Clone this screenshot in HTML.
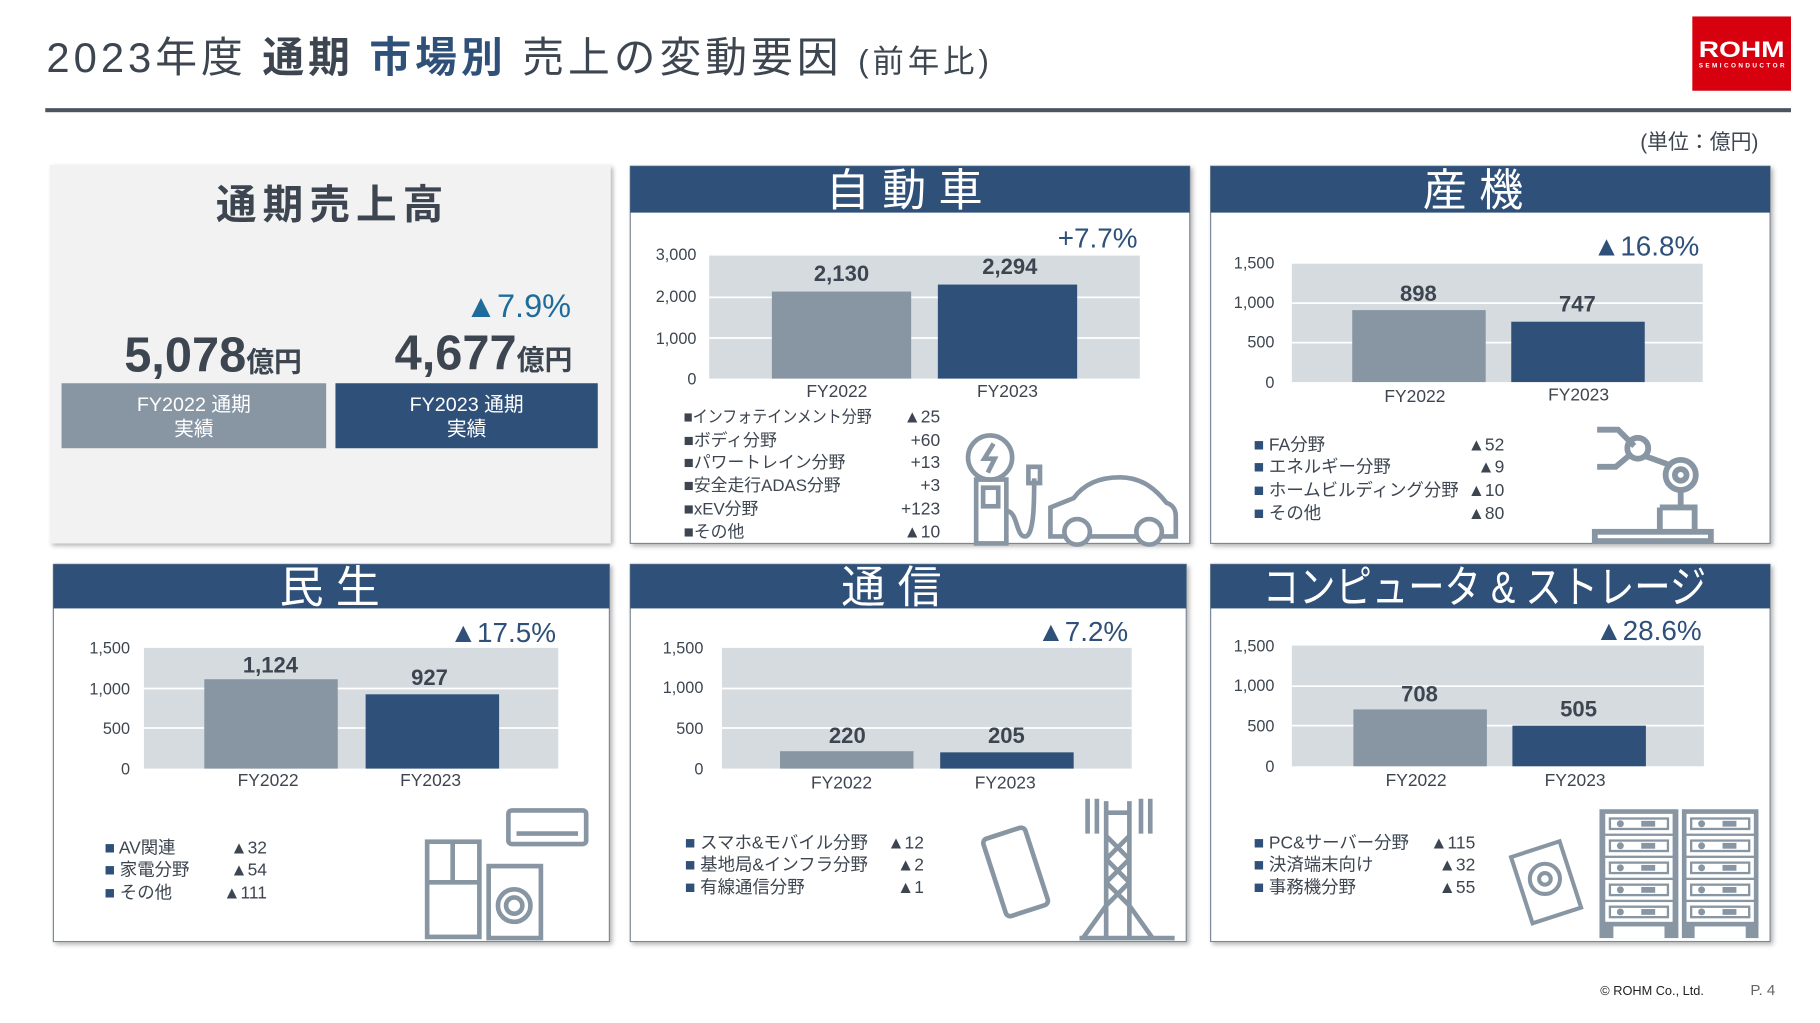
<!DOCTYPE html>
<html><head><meta charset="utf-8">
<style>
html,body{margin:0;padding:0;background:#fff;width:1820px;height:1023px;overflow:hidden}
svg{display:block}
text{font-family:"Liberation Sans","Noto Sans CJK JP",sans-serif}
</style></head><body>
<svg width="1820" height="1023" viewBox="0 0 1568 881" xmlns="http://www.w3.org/2000/svg">
<defs>
<filter id="sh" x="-5%" y="-5%" width="110%" height="110%"><feDropShadow dx="2" dy="2" stdDeviation="2" flood-color="#000" flood-opacity="0.3"/></filter>
</defs>
<!-- Title -->
<text x="40" y="62" font-size="36" fill="#3d4650" textLength="812" lengthAdjust="spacing">2023年度 <tspan font-weight="bold">通期</tspan> <tspan font-weight="bold" fill="#2e5079">市場別</tspan> 売上の変動要因 <tspan font-size="27">(前年比)</tspan></text>
<rect x="39" y="93" width="1504" height="3.5" fill="#4a5560"/>
<rect x="1458" y="14" width="85" height="64" fill="#d7000f"/>
<text x="1500.5" y="49" font-size="19" font-weight="bold" fill="#fff" text-anchor="middle" textLength="74" lengthAdjust="spacingAndGlyphs">ROHM</text>
<text x="1500.5" y="58" font-size="5.5" font-weight="bold" fill="#fff" text-anchor="middle" textLength="74" lengthAdjust="spacing">SEMICONDUCTOR</text>
<text x="1515" y="128" font-size="18" fill="#3d4650" text-anchor="end">(単位：億円)</text>

<!-- Panel 1 -->
<rect x="43" y="142" width="483" height="326" fill="#f2f2f2" filter="url(#sh)"/>
<text x="186" y="188" font-size="35" font-weight="bold" fill="#3d4650" textLength="196" lengthAdjust="spacing">通期売上高</text>
<text x="492" y="273" font-size="28" fill="#1f6c9c" text-anchor="end">▲7.9%</text>
<text x="107" y="320" font-size="42" font-weight="bold" fill="#3d4650">5,078<tspan font-size="24">億円</tspan></text>
<text x="340" y="318" font-size="42" font-weight="bold" fill="#3d4650">4,677<tspan font-size="24">億円</tspan></text>
<rect x="53" y="330" width="228" height="56" fill="#8896a4"/>
<rect x="289" y="330" width="226" height="56" fill="#2e5079"/>
<text x="167" y="354" font-size="17" fill="#fff" text-anchor="middle">FY2022 通期</text>
<text x="167" y="375" font-size="17" fill="#fff" text-anchor="middle">実績</text>
<text x="402" y="354" font-size="17" fill="#fff" text-anchor="middle">FY2023 通期</text>
<text x="402" y="375" font-size="17" fill="#fff" text-anchor="middle">実績</text>

<!-- Panel frames -->
<g filter="url(#sh)">
<rect x="543" y="143" width="482" height="325" fill="#fff" stroke="#7a8794"/>
<rect x="1043" y="143" width="482" height="325" fill="#fff" stroke="#7a8794"/>
<rect x="46" y="486" width="479" height="325" fill="#fff" stroke="#7a8794"/>
<rect x="543" y="486" width="479" height="325" fill="#fff" stroke="#7a8794"/>
<rect x="1043" y="486" width="482" height="325" fill="#fff" stroke="#7a8794"/>
</g>
<rect x="543" y="143" width="482" height="40" fill="#2e5079"/>
<rect x="1043" y="143" width="482" height="40" fill="#2e5079"/>
<rect x="46" y="486" width="479" height="38" fill="#2e5079"/>
<rect x="543" y="486" width="479" height="38" fill="#2e5079"/>
<rect x="1043" y="486" width="482" height="38" fill="#2e5079"/>
<g font-size="38" fill="#fff" text-anchor="middle">
<text x="779" y="177">自 動 車</text>
<text x="1269" y="177">産 機</text>
<text x="284" y="519">民 生</text>
<text x="768" y="519">通 信</text>
<text x="1279" y="519" textLength="382" lengthAdjust="spacingAndGlyphs">コンピュータ &amp; ストレージ</text>
</g>

<!-- Chart 自動車 -->
<rect x="611" y="220" width="371" height="106" fill="#d6dbe0"/>
<g stroke="#fff" stroke-width="1.5"><line x1="611" y1="256" x2="982" y2="256"/><line x1="611" y1="291" x2="982" y2="291"/></g>
<rect x="665" y="251" width="120" height="75" fill="#8896a4"/>
<rect x="808" y="245" width="120" height="81" fill="#2e5079"/>
<g font-size="14" fill="#3d4650" text-anchor="end"><text x="600" y="224">3,000</text><text x="600" y="260">2,000</text><text x="600" y="296">1,000</text><text x="600" y="331">0</text></g>
<g font-size="19" font-weight="bold" fill="#3d4650" text-anchor="middle"><text x="725" y="242">2,130</text><text x="870" y="236">2,294</text></g>
<text x="980" y="213" font-size="24" fill="#2e5079" text-anchor="end">+7.7%</text>
<g font-size="15" fill="#3d4650" text-anchor="middle"><text x="721" y="342">FY2022</text><text x="868" y="342">FY2023</text></g>
<g font-size="14.5" fill="#3d4650">
<text x="589" y="364" textLength="162" lengthAdjust="spacingAndGlyphs">■インフォテインメント分野</text><text x="589" y="384">■ボディ分野</text><text x="589" y="403">■パワートレイン分野</text><text x="589" y="423">■安全走行ADAS分野</text><text x="589" y="443">■xEV分野</text><text x="589" y="463">■その他</text>
</g>
<g font-size="15" fill="#3d4650" text-anchor="end"><text x="810" y="364">▲25</text><text x="810" y="384">+60</text><text x="810" y="403">+13</text><text x="810" y="423">+3</text><text x="810" y="443">+123</text><text x="810" y="463">▲10</text></g>
<g fill="none" stroke="#8896a4" stroke-width="4">
<circle cx="853" cy="394" r="19"/><path d="M856 382l-8 13h9l-6 12"/>
<rect x="841" y="413" width="26" height="55"/><rect x="847" y="420" width="13" height="16"/>
<path d="M867 440c10 0 8 22 16 22c8 0 8-30 8-50"/><rect x="886" y="402" width="10" height="14"/>
<path d="M905 462v-25l20-8c10-14 25-18 40-18c20 0 32 12 40 22c6 2 8 6 8 12v17z"/>
<circle cx="928" cy="458" r="11" fill="#fff"/><circle cx="990" cy="458" r="11" fill="#fff"/>
</g>

<!-- Chart 産機 -->
<rect x="1113" y="227" width="354" height="102" fill="#d6dbe0"/>
<g stroke="#fff" stroke-width="1.5"><line x1="1113" y1="261" x2="1467" y2="261"/><line x1="1113" y1="295" x2="1467" y2="295"/></g>
<rect x="1165" y="267" width="115" height="62" fill="#8896a4"/>
<rect x="1302" y="277" width="115" height="52" fill="#2e5079"/>
<g font-size="14" fill="#3d4650" text-anchor="end"><text x="1098" y="231">1,500</text><text x="1098" y="265">1,000</text><text x="1098" y="299">500</text><text x="1098" y="334">0</text></g>
<g font-size="19" font-weight="bold" fill="#3d4650" text-anchor="middle"><text x="1222" y="259">898</text><text x="1359" y="268">747</text></g>
<text x="1464" y="220" font-size="24" fill="#2e5079" text-anchor="end">▲16.8%</text>
<g font-size="15" fill="#3d4650" text-anchor="middle"><text x="1219" y="346">FY2022</text><text x="1360" y="345">FY2023</text></g>
<g font-size="15" fill="#3d4650"><text x="1080" y="388"><tspan fill="#2e5079">■</tspan>  FA分野</text><text x="1080" y="407"><tspan fill="#2e5079">■</tspan>  エネルギー分野</text><text x="1080" y="427"><tspan fill="#2e5079">■</tspan>  ホームビルディング分野</text><text x="1080" y="447"><tspan fill="#2e5079">■</tspan>  その他</text></g>
<g font-size="15" fill="#3d4650" text-anchor="end"><text x="1296" y="388">▲52</text><text x="1296" y="407">▲9</text><text x="1296" y="427">▲10</text><text x="1296" y="447">▲80</text></g>
<g fill="none" stroke="#8896a4" stroke-width="5">
<path d="M1376 370h18l14 14M1376 402h16l12-10"/>
<circle cx="1411" cy="386" r="9"/><path d="M1418 393l22 8"/><circle cx="1448" cy="409" r="13"/><circle cx="1448" cy="409" r="5"/>
<path d="M1448 422v15M1430 437h30v21M1430 437v21"/><rect x="1374" y="458" width="100" height="8"/>
</g>

<!-- Chart 民生 -->
<rect x="124" y="558" width="357" height="104" fill="#d6dbe0"/>
<g stroke="#fff" stroke-width="1.5"><line x1="124" y1="593" x2="481" y2="593"/><line x1="124" y1="627" x2="481" y2="627"/></g>
<rect x="176" y="585" width="115" height="77" fill="#8896a4"/>
<rect x="315" y="598" width="115" height="64" fill="#2e5079"/>
<g font-size="14" fill="#3d4650" text-anchor="end"><text x="112" y="563">1,500</text><text x="112" y="598">1,000</text><text x="112" y="632">500</text><text x="112" y="667">0</text></g>
<g font-size="19" font-weight="bold" fill="#3d4650" text-anchor="middle"><text x="233" y="579">1,124</text><text x="370" y="590">927</text></g>
<text x="479" y="553" font-size="24" fill="#2e5079" text-anchor="end">▲17.5%</text>
<g font-size="15" fill="#3d4650" text-anchor="middle"><text x="231" y="677">FY2022</text><text x="371" y="677">FY2023</text></g>
<g font-size="15" fill="#3d4650"><text x="90" y="735"><tspan fill="#2e5079">■</tspan>  AV関連</text><text x="90" y="754"><tspan fill="#2e5079">■</tspan>  家電分野</text><text x="90" y="774"><tspan fill="#2e5079">■</tspan>  その他</text></g>
<g font-size="15" fill="#3d4650" text-anchor="end"><text x="230" y="735">▲32</text><text x="230" y="754">▲54</text><text x="230" y="774">▲111</text></g>
<g fill="none" stroke="#8896a4" stroke-width="4">
<rect x="368" y="725" width="45" height="82"/><line x1="390" y1="725" x2="390" y2="760"/><line x1="368" y1="760" x2="413" y2="760"/>
<rect x="421" y="746" width="45" height="62"/><circle cx="443" cy="780" r="14"/><circle cx="443" cy="780" r="7"/>
<rect x="438" y="698" width="67" height="29" rx="3"/><line x1="445" y1="718" x2="498" y2="718"/>
</g>

<!-- Chart 通信 -->
<rect x="622" y="558" width="353" height="104" fill="#d6dbe0"/>
<g stroke="#fff" stroke-width="1.5"><line x1="622" y1="593" x2="975" y2="593"/><line x1="622" y1="627" x2="975" y2="627"/></g>
<rect x="672" y="647" width="115" height="15" fill="#8896a4"/>
<rect x="810" y="648" width="115" height="14" fill="#2e5079"/>
<g font-size="14" fill="#3d4650" text-anchor="end"><text x="606" y="563">1,500</text><text x="606" y="597">1,000</text><text x="606" y="632">500</text><text x="606" y="667">0</text></g>
<g font-size="19" font-weight="bold" fill="#3d4650" text-anchor="middle"><text x="730" y="640">220</text><text x="867" y="640">205</text></g>
<text x="972" y="552" font-size="24" fill="#2e5079" text-anchor="end">▲7.2%</text>
<g font-size="15" fill="#3d4650" text-anchor="middle"><text x="725" y="679">FY2022</text><text x="866" y="679">FY2023</text></g>
<g font-size="15" fill="#3d4650"><text x="590" y="731"><tspan fill="#2e5079">■</tspan>  スマホ&amp;モバイル分野</text><text x="590" y="750"><tspan fill="#2e5079">■</tspan>  基地局&amp;インフラ分野</text><text x="590" y="769"><tspan fill="#2e5079">■</tspan>  有線通信分野</text></g>
<g font-size="15" fill="#3d4650" text-anchor="end"><text x="796" y="731">▲12</text><text x="796" y="750">▲2</text><text x="796" y="769">▲1</text></g>
<g fill="none" stroke="#8896a4" stroke-width="4">
<rect x="856" y="716" width="38" height="70" rx="4" transform="rotate(-18 875 751)"/>
<path d="M953 690v120M973 690v120M953 700h20M953 720l20 20M973 720l-20 20M953 740l20 20M973 740l-20 20M953 760l20 20M973 760l-20 20M953 780l-20 28M973 780l20 28M930 808h82"/>
<path d="M937 688v30M945 688v30M983 688v30M991 688v30"/>
</g>

<!-- Chart C&S -->
<rect x="1113" y="556" width="355" height="104" fill="#d6dbe0"/>
<g stroke="#fff" stroke-width="1.5"><line x1="1113" y1="591" x2="1468" y2="591"/><line x1="1113" y1="625" x2="1468" y2="625"/></g>
<rect x="1166" y="611" width="115" height="49" fill="#8896a4"/>
<rect x="1303" y="625" width="115" height="35" fill="#2e5079"/>
<g font-size="14" fill="#3d4650" text-anchor="end"><text x="1098" y="561">1,500</text><text x="1098" y="595">1,000</text><text x="1098" y="630">500</text><text x="1098" y="665">0</text></g>
<g font-size="19" font-weight="bold" fill="#3d4650" text-anchor="middle"><text x="1223" y="604">708</text><text x="1360" y="617">505</text></g>
<text x="1466" y="551" font-size="24" fill="#2e5079" text-anchor="end">▲28.6%</text>
<g font-size="15" fill="#3d4650" text-anchor="middle"><text x="1220" y="677">FY2022</text><text x="1357" y="677">FY2023</text></g>
<g font-size="15" fill="#3d4650"><text x="1080" y="731"><tspan fill="#2e5079">■</tspan>  PC&amp;サーバー分野</text><text x="1080" y="750"><tspan fill="#2e5079">■</tspan>  決済端末向け</text><text x="1080" y="769"><tspan fill="#2e5079">■</tspan>  事務機分野</text></g>
<g font-size="15" fill="#3d4650" text-anchor="end"><text x="1271" y="731">▲115</text><text x="1271" y="750">▲32</text><text x="1271" y="769">▲55</text></g>
<g fill="none" stroke="#8896a4" stroke-width="3.5">
<rect x="1310" y="730" width="44" height="60" transform="rotate(-18 1332 760)"/>
<circle cx="1331" cy="757" r="13"/><circle cx="1331" cy="757" r="5"/>
</g>
<g fill="#8896a4">
<rect x="1378" y="697" width="68" height="111"/><rect x="1449" y="697" width="66" height="111"/>
</g>
<g fill="#fff">
<rect x="1383" y="701" width="58" height="17"/><rect x="1383" y="720" width="58" height="17"/><rect x="1383" y="739" width="58" height="17"/><rect x="1383" y="758" width="58" height="17"/><rect x="1383" y="777" width="58" height="17"/>
<rect x="1453" y="701" width="58" height="17"/><rect x="1453" y="720" width="58" height="17"/><rect x="1453" y="739" width="58" height="17"/><rect x="1453" y="758" width="58" height="17"/><rect x="1453" y="777" width="58" height="17"/>
<rect x="1390" y="798" width="44" height="10"/><rect x="1460" y="798" width="44" height="10"/>
</g>
<g fill="#8896a4">
<rect x="1386" y="704" width="52" height="11"/><rect x="1386" y="723" width="52" height="11"/><rect x="1386" y="742" width="52" height="11"/><rect x="1386" y="761" width="52" height="11"/><rect x="1386" y="780" width="52" height="11"/>
<rect x="1456" y="704" width="52" height="11"/><rect x="1456" y="723" width="52" height="11"/><rect x="1456" y="742" width="52" height="11"/><rect x="1456" y="761" width="52" height="11"/><rect x="1456" y="780" width="52" height="11"/>
</g>
<g fill="#fff">
<rect x="1388" y="706" width="48" height="7"/><rect x="1388" y="725" width="48" height="7"/><rect x="1388" y="744" width="48" height="7"/><rect x="1388" y="763" width="48" height="7"/><rect x="1388" y="782" width="48" height="7"/>
<rect x="1458" y="706" width="48" height="7"/><rect x="1458" y="725" width="48" height="7"/><rect x="1458" y="744" width="48" height="7"/><rect x="1458" y="763" width="48" height="7"/><rect x="1458" y="782" width="48" height="7"/>
</g>
<g fill="#8896a4">
<circle cx="1396" cy="709.5" r="3"/><circle cx="1396" cy="728.5" r="3"/><circle cx="1396" cy="747.5" r="3"/><circle cx="1396" cy="766.5" r="3"/><circle cx="1396" cy="785.5" r="3"/>
<circle cx="1466" cy="709.5" r="3"/><circle cx="1466" cy="728.5" r="3"/><circle cx="1466" cy="747.5" r="3"/><circle cx="1466" cy="766.5" r="3"/><circle cx="1466" cy="785.5" r="3"/>
<rect x="1414" y="707" width="12" height="5"/><rect x="1414" y="726" width="12" height="5"/><rect x="1414" y="745" width="12" height="5"/><rect x="1414" y="764" width="12" height="5"/><rect x="1414" y="783" width="12" height="5"/>
<rect x="1484" y="707" width="12" height="5"/><rect x="1484" y="726" width="12" height="5"/><rect x="1484" y="745" width="12" height="5"/><rect x="1484" y="764" width="12" height="5"/><rect x="1484" y="783" width="12" height="5"/>
</g>

<!-- Footer -->
<text x="1468" y="857" font-size="11" fill="#222" text-anchor="end">© ROHM Co., Ltd.</text>
<text x="1508" y="857" font-size="13" fill="#666">P. 4</text>
</svg>
</body></html>
